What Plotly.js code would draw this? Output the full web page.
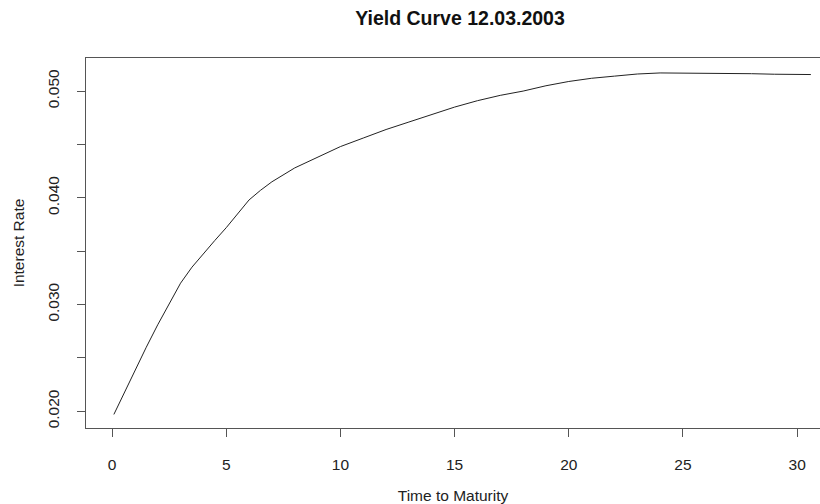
<!DOCTYPE html>
<html>
<head>
<meta charset="utf-8">
<script src="https://cdn.plot.ly/plotly-3.0.1.min.js"></script>
<style>html,body{margin:0;padding:0;background:#fff;}#chart{width:820px;height:504px;}</style>
</head>
<body>
<div id="chart"></div>
<script>
// Time to maturity (years)
const maturity = [0.08, 0.5, 1, 1.5, 2, 2.5, 3, 3.5, 4, 4.5, 5, 5.5, 6, 6.5, 7, 8, 9, 10, 11, 12, 13, 14, 15, 16, 17, 18, 19, 20, 21, 22, 23, 24, 25, 26, 27, 28, 29, 30, 30.6];
// Interest rate
const rate = [0.0197, 0.0216, 0.0238, 0.0260, 0.0281, 0.0301, 0.0320, 0.0335, 0.0348, 0.0360, 0.0372, 0.0385, 0.0398, 0.0407, 0.0415, 0.0428, 0.0438, 0.0448, 0.0456, 0.0464, 0.0471, 0.0478, 0.0485, 0.0491, 0.0496, 0.0500, 0.0505, 0.0509, 0.0512, 0.0514, 0.0516, 0.0517, 0.0517, 0.0517, 0.0517, 0.05163, 0.05158, 0.05155, 0.05155];
// Tick labels
const xTickVals = [0, 5, 10, 15, 20, 25, 30];
const xTickText = ["0", "5", "10", "15", "20", "25", "30"];
const yTickVals = [0.020, 0.025, 0.030, 0.035, 0.040, 0.045, 0.050];
const yTickText = ["0.020", "", "0.030", "", "0.040", "", "0.050"];

const FONT = "Liberation Sans, Arial, sans-serif";
const AX = "#555555";

const trace = {
  x: maturity, y: rate, type: "scatter", mode: "lines",
  line: {color: "#222222", width: 1}, hoverinfo: "x+y"
};

const layout = {
  width: 820, height: 504,
  margin: {l: 86, r: 0, t: 58, b: 76},
  paper_bgcolor: "#ffffff", plot_bgcolor: "#ffffff",
  font: {family: FONT, color: "#222222", size: 15.5},
  showlegend: false,
  title: {text: "<b>Yield Curve 12.03.2003</b>", font: {family: FONT, size: 19.5, color: "#111111"},
          xref: "container", x: 0.561, xanchor: "center", yref: "container", y: 0.964, yanchor: "middle"},
  xaxis: {
    range: [-1.14, 31.0], tickmode: "array", tickvals: xTickVals, ticktext: xTickText,
    ticks: "outside", ticklen: 8, tickcolor: AX, tickwidth: 1,
    showline: true, linecolor: AX, linewidth: 1, mirror: true,
    showgrid: false, zeroline: false, ticklabelstandoff: 14,
    tickfont: {size: 15.5, color: "#222222"},
    title: {text: "Time to Maturity", font: {size: 15.5, color: "#222222"}, standoff: 18},
    automargin: false
  },
  yaxis: {
    range: [0.01843, 0.0531], tickmode: "array", tickvals: yTickVals, ticktext: yTickText,
    ticks: "outside", ticklen: 8, tickcolor: AX, tickwidth: 1, tickangle: -90,
    showline: true, linecolor: AX, linewidth: 1, mirror: false,
    showgrid: false, zeroline: false, ticklabelstandoff: 12,
    tickfont: {size: 15.5, color: "#222222"},
    title: {text: "Interest Rate", font: {size: 15.5, color: "#222222"}, standoff: 16},
    automargin: false
  }
};

Plotly.newPlot("chart", [trace], layout, {staticPlot: true, displayModeBar: false});
</script>
</body>
</html>
